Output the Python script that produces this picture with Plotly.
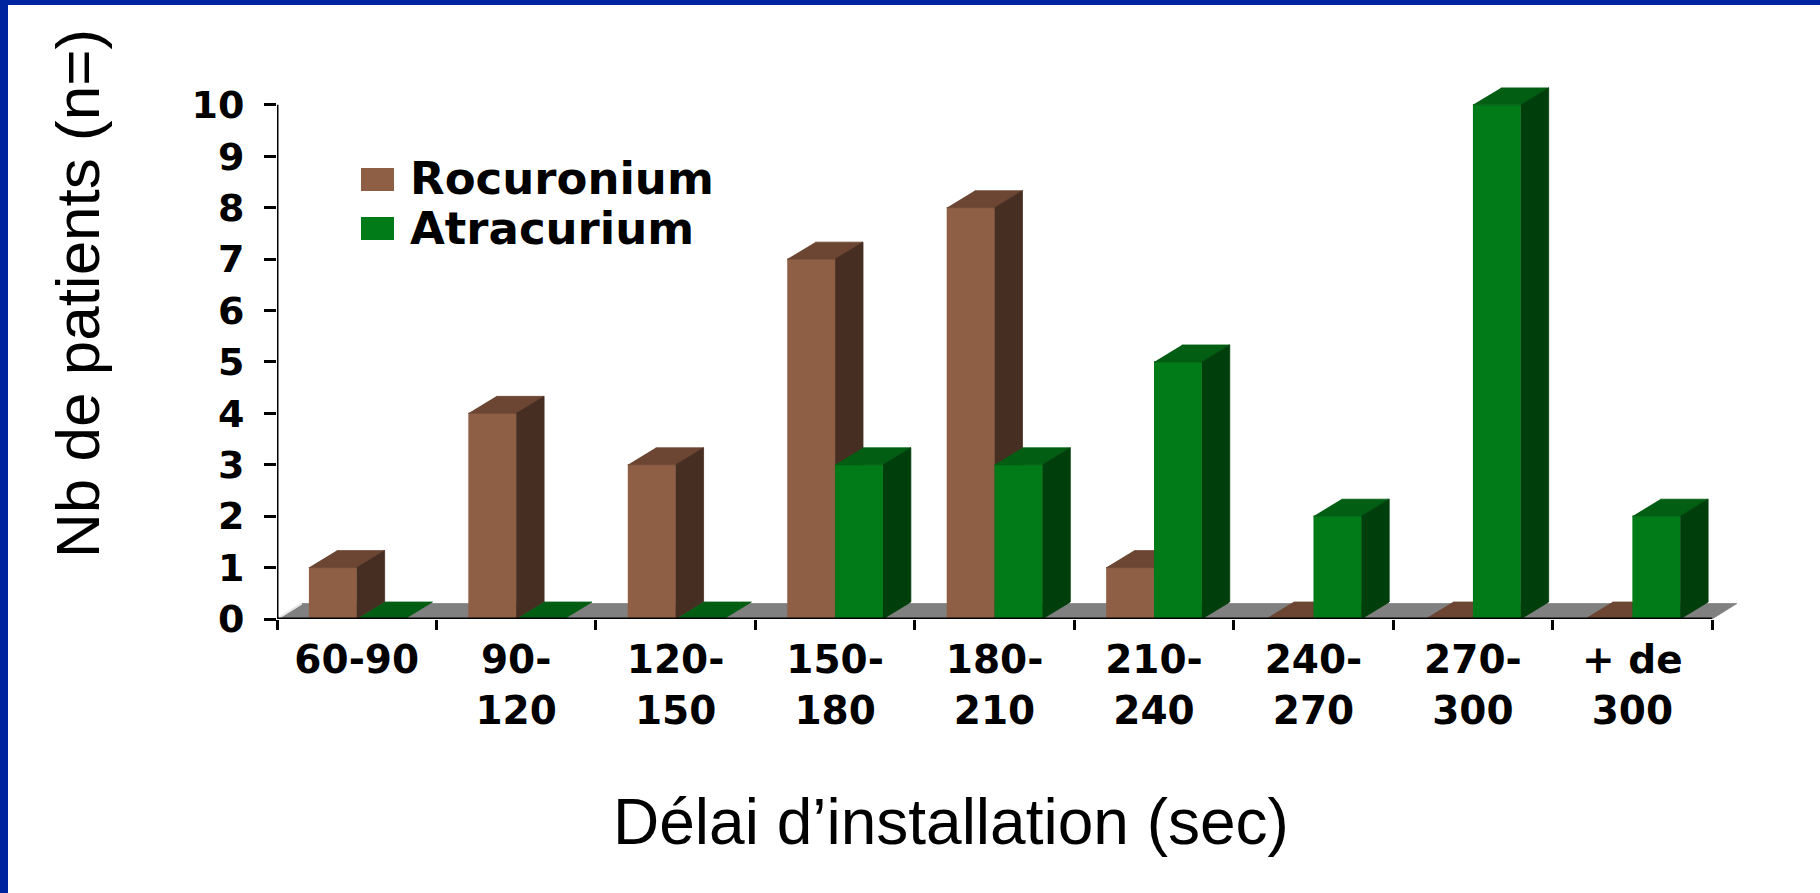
import plotly.graph_objects as go

# ---- data -------------------------------------------------------------
categories = ["60-90", "90-<br>120", "120-<br>150", "150-<br>180", "180-<br>210",
              "210-<br>240", "240-<br>270", "270-<br>300", "+ de<br>300"]
rocuronium = [1, 4, 3, 7, 8, 1, 0, 0, 0]
atracurium = [0, 0, 0, 3, 3, 5, 2, 10, 2]
y_tick_values = list(range(0, 11))

series = [
    dict(name="Rocuronium", values=rocuronium, offset=-0.30,
         front="#8E5E45", top="#6C4633", side="#472E22"),
    dict(name="Atracurium", values=atracurium, offset=0.0,
         front="#017A18", top="#015E12", side="#003F0B"),
]

# ---- pseudo-3D geometry (data units) ----------------------------------
BAR_W = 0.30      # width of one column in category units
DX, DY = 0.175, 0.33   # depth offset of column tops/sides
FX, FY = 0.155, 0.30   # depth offset of the floor

n = len(categories)
X_MIN, X_MAX = -0.5, n - 0.5 + 0.2
Y_MAX = 10.6

# ---- page layout in pixels ---------------------------------------------
W, H = 1820, 893
ML, MR, MT, MB = 277, 76, 74, 274
PW, PH = W - ML - MR, H - MT - MB


def px(x):
    return (x - ML) / PW


def py(y):
    return (H - MB - y) / PH


def polys(pts_list):
    xs, ys = [], []
    for pts in pts_list:
        for (a, b) in pts:
            xs.append(a)
            ys.append(b)
        xs.append(None)
        ys.append(None)
    return xs, ys


def face_trace(pts_list, color):
    xs, ys = polys(pts_list)
    return go.Scatter(x=xs, y=ys, mode="lines", fill="toself", fillcolor=color,
                      line=dict(color=color, width=0.8), hoverinfo="skip",
                      showlegend=False)


fig = go.Figure()

# floor of the chart
floor = [(X_MIN, 0), (n - 0.5, 0), (n - 0.5 + FX, FY), (X_MIN + FX, FY)]
fig.add_trace(face_trace([floor], "#808080"))
fig.add_trace(go.Scatter(x=[X_MIN, X_MIN + FX], y=[0, FY], mode="lines",
                         line=dict(color="#E6E6E6", width=2), hoverinfo="skip",
                         showlegend=False))

# columns: front, top and side faces per series
for s in series:
    fronts, tops, sides = [], [], []
    for i, v in enumerate(s["values"]):
        L = i + s["offset"]
        R = L + BAR_W
        if v > 0:
            fronts.append([(L, 0), (R, 0), (R, v), (L, v)])
            sides.append([(R, 0), (R + DX, DY), (R + DX, v + DY), (R, v)])
        tops.append([(L, v), (R, v), (R + DX, v + DY), (L + DX, v + DY)])
    fig.add_trace(face_trace(fronts, s["front"]))
    fig.add_trace(face_trace(tops, s["top"]))
    fig.add_trace(face_trace(sides, s["side"]))

# axis lines
shapes = [
    dict(type="line", xref="x", yref="y", x0=X_MIN, x1=n - 0.5, y0=0, y1=0,
         line=dict(color="black", width=3)),
    dict(type="line", xref="x", yref="y", x0=X_MIN, x1=X_MIN, y0=0, y1=10,
         line=dict(color="black", width=3)),
    # blue frame on top and left edges
    dict(type="rect", xref="paper", yref="paper", x0=px(0), x1=px(8),
         y0=py(H), y1=py(0), fillcolor="#0024A0", line=dict(width=0)),
    dict(type="rect", xref="paper", yref="paper", x0=px(0), x1=px(W),
         y0=py(5), y1=py(0), fillcolor="#0024A0", line=dict(width=0)),
]

# legend
annotations = []
for k, s in enumerate(series):
    yc = 179 + 49 * k
    shapes.append(dict(type="rect", xref="paper", yref="paper",
                       x0=px(361), x1=px(394), y0=py(yc + 12), y1=py(yc - 11),
                       fillcolor=s["front"], line=dict(width=0)))
    annotations.append(dict(text=s["name"], xref="paper", yref="paper",
                            x=px(408), y=py(yc), xanchor="left", yanchor="middle",
                            showarrow=False,
                            font=dict(family="DejaVu Sans", size=45, weight="bold",
                                      color="black")))

# axis titles
annotations.append(dict(text="Nb de patients (n=)", xref="paper", yref="paper",
                        x=px(77), y=py(293), textangle=-90, showarrow=False,
                        xanchor="center", yanchor="middle",
                        font=dict(family="Liberation Sans", size=62, color="black")))
annotations.append(dict(text="Délai d’installation (sec)", xref="paper", yref="paper",
                        x=px(951), y=py(822), showarrow=False,
                        xanchor="center", yanchor="middle",
                        font=dict(family="Liberation Sans", size=64, color="black")))

fig.update_layout(
    width=W, height=H,
    margin=dict(l=ML, r=MR, t=MT, b=MB, pad=0),
    paper_bgcolor="white", plot_bgcolor="white",
    showlegend=False,
    shapes=shapes, annotations=annotations,
    xaxis=dict(range=[X_MIN, X_MAX], showgrid=False, zeroline=False, showline=False,
               tickmode="array", tickvals=list(range(n)), ticktext=categories,
               ticks="", ticklabelstandoff=14,
               tickfont=dict(family="DejaVu Sans", size=39, weight="bold", color="black"),
               minor=dict(tickmode="array", tickvals=[k - 0.5 for k in range(n + 1)],
                          ticks="outside", ticklen=10, tickwidth=3, tickcolor="black",
                          showgrid=False)),
    yaxis=dict(range=[0, Y_MAX], showgrid=False, zeroline=False, showline=False,
               tickmode="array", tickvals=y_tick_values,
               ticks="outside", ticklen=12, tickwidth=3, tickcolor="black",
               ticklabelstandoff=12,
               tickfont=dict(family="DejaVu Sans", size=38, weight="bold", color="black")),
)

fig.write_html("out.html")
